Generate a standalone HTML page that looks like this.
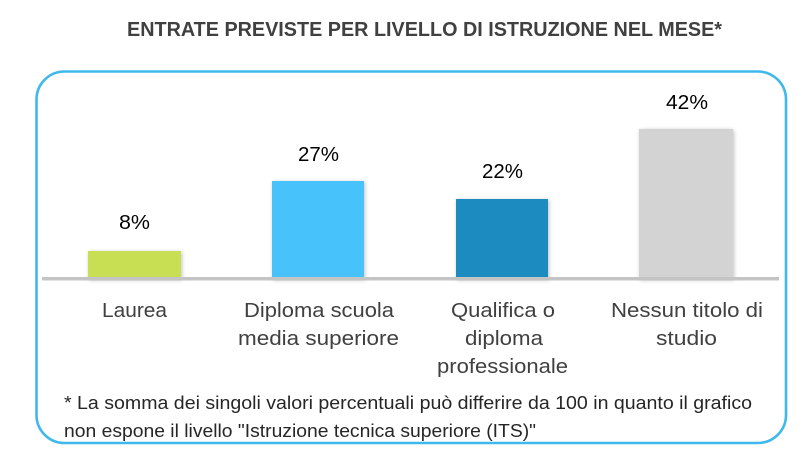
<!DOCTYPE html>
<html>
<head>
<meta charset="utf-8">
<style>
html,body{margin:0;padding:0;background:#fff;}
svg{display:block;}
text{font-family:"Liberation Sans",sans-serif;}
</style>
</head>
<body>
<svg width="812" height="459" viewBox="0 0 812 459" xmlns="http://www.w3.org/2000/svg">
<defs>
<filter id="sh" x="-20%" y="-20%" width="140%" height="140%">
<feGaussianBlur in="SourceAlpha" stdDeviation="2"/>
<feOffset dx="1" dy="1" result="b"/>
<feComponentTransfer><feFuncA type="linear" slope="0.25"/></feComponentTransfer>
<feMerge><feMergeNode/><feMergeNode in="SourceGraphic"/></feMerge>
</filter>
</defs>
<rect x="0" y="0" width="812" height="459" fill="#fff"/>
<!-- title -->
<text x="127" y="36" font-size="20.5" font-weight="bold" fill="#404040" textLength="595" lengthAdjust="spacingAndGlyphs">ENTRATE PREVISTE PER LIVELLO DI ISTRUZIONE NEL MESE*</text>
<!-- box -->
<rect x="36.5" y="71.5" width="749.5" height="371.5" rx="28" ry="28" fill="none" stroke="#3fb8ec" stroke-width="2.6"/>
<!-- bars -->
<rect x="88" y="251" width="93" height="28" fill="#c8df52" filter="url(#sh)"/>
<rect x="272" y="181" width="92" height="98" fill="#47c2fa" filter="url(#sh)"/>
<rect x="456" y="199" width="92" height="80" fill="#1b8cc0" filter="url(#sh)"/>
<rect x="639" y="129" width="94" height="150" fill="#d3d3d3" filter="url(#sh)"/>
<!-- axis -->
<rect x="42" y="277" width="737" height="3.5" fill="#c4c4c4"/>
<!-- value labels -->
<text x="119" y="229" font-size="20" fill="#000" textLength="31" lengthAdjust="spacingAndGlyphs">8%</text>
<text x="298" y="161" font-size="20" fill="#000" textLength="41" lengthAdjust="spacingAndGlyphs">27%</text>
<text x="482" y="178" font-size="20" fill="#000" textLength="41" lengthAdjust="spacingAndGlyphs">22%</text>
<text x="666" y="109" font-size="20" fill="#000" textLength="42" lengthAdjust="spacingAndGlyphs">42%</text>
<!-- category labels -->
<g font-size="20" fill="#404040">
<text x="102" y="317" textLength="65" lengthAdjust="spacingAndGlyphs">Laurea</text>
<text x="244" y="317" textLength="150" lengthAdjust="spacingAndGlyphs">Diploma scuola</text>
<text x="238" y="345" textLength="161" lengthAdjust="spacingAndGlyphs">media superiore</text>
<text x="451" y="317" textLength="104" lengthAdjust="spacingAndGlyphs">Qualifica o</text>
<text x="465" y="345" textLength="78" lengthAdjust="spacingAndGlyphs">diploma</text>
<text x="437" y="373" textLength="131" lengthAdjust="spacingAndGlyphs">professionale</text>
<text x="611" y="317" textLength="152" lengthAdjust="spacingAndGlyphs">Nessun titolo di</text>
<text x="656" y="345" textLength="61" lengthAdjust="spacingAndGlyphs">studio</text>
</g>
<!-- footnote -->
<g font-size="18" fill="#262626">
<text x="64" y="409" textLength="688" lengthAdjust="spacingAndGlyphs">* La somma dei singoli valori percentuali può differire da 100 in quanto il grafico</text>
<text x="64" y="437" textLength="472" lengthAdjust="spacingAndGlyphs">non espone il livello "Istruzione tecnica superiore (ITS)"</text>
</g>
</svg>
</body>
</html>
